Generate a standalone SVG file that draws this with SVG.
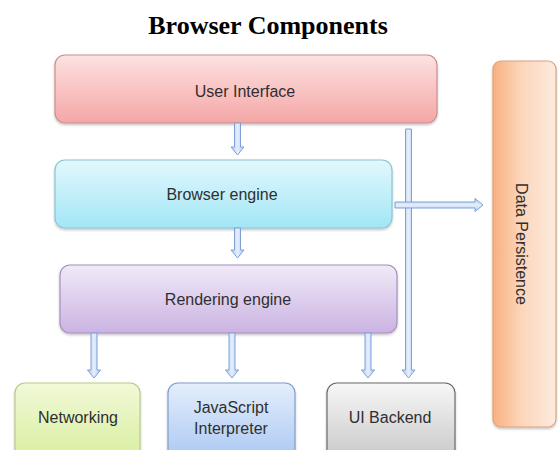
<svg xmlns="http://www.w3.org/2000/svg" width="558" height="450" viewBox="0 0 558 450">
  <style>
    .lbl { font-family: "Liberation Sans", Arial, sans-serif; font-size: 16px; fill: #2f2f2f; text-anchor: middle; }
    .title { font-family: "Liberation Serif", "Times New Roman", serif; font-size: 26px; font-weight: bold; fill: #000000; text-anchor: middle; }
    .box { stroke-width: 1.2; filter: url(#shadow); }
    .arrow { fill: url(#arrowFillV); stroke: #7d9fd6; stroke-width: 1; stroke-linejoin: miter; }
    .arrowH { fill: url(#arrowFillH); stroke: #7d9fd6; stroke-width: 1; }
  </style>
  <defs>
    <filter id="shadow" x="-10%" y="-10%" width="120%" height="130%">
      <feDropShadow dx="0" dy="1.5" stdDeviation="1.2" flood-color="#000000" flood-opacity="0.25"/>
    </filter>
    <linearGradient id="gUI" x1="0" y1="0" x2="0" y2="1">
      <stop offset="0" stop-color="#fde2e2"/>
      <stop offset="1" stop-color="#f5a6a6"/>
    </linearGradient>
    <linearGradient id="gBE" x1="0" y1="0" x2="0" y2="1">
      <stop offset="0" stop-color="#e2f8fd"/>
      <stop offset="1" stop-color="#a2e6f6"/>
    </linearGradient>
    <linearGradient id="gRE" x1="0" y1="0" x2="0" y2="1">
      <stop offset="0" stop-color="#f1eaf8"/>
      <stop offset="1" stop-color="#cbb3e2"/>
    </linearGradient>
    <linearGradient id="gNet" x1="0" y1="0" x2="0" y2="1">
      <stop offset="0" stop-color="#f1f9d8"/>
      <stop offset="1" stop-color="#d8ee9c"/>
    </linearGradient>
    <linearGradient id="gJS" x1="0" y1="0" x2="0" y2="1">
      <stop offset="0" stop-color="#e4eefc"/>
      <stop offset="1" stop-color="#a8c6f2"/>
    </linearGradient>
    <linearGradient id="gUIB" x1="0" y1="0" x2="0" y2="1">
      <stop offset="0" stop-color="#f7f7f7"/>
      <stop offset="1" stop-color="#c6c6c6"/>
    </linearGradient>
    <linearGradient id="gDP" x1="0" y1="0" x2="1" y2="0">
      <stop offset="0" stop-color="#f8b080"/>
      <stop offset="0.45" stop-color="#fcd6bb"/>
      <stop offset="1" stop-color="#fdebdf"/>
    </linearGradient>
    <linearGradient id="arrowFillV" x1="0" y1="0" x2="1" y2="0">
      <stop offset="0" stop-color="#b4ccf0"/>
      <stop offset="0.5" stop-color="#e4eefc"/>
      <stop offset="1" stop-color="#b4ccf0"/>
    </linearGradient>
    <linearGradient id="arrowFillH" x1="0" y1="0" x2="0" y2="1">
      <stop offset="0" stop-color="#b4ccf0"/>
      <stop offset="0.5" stop-color="#e4eefc"/>
      <stop offset="1" stop-color="#b4ccf0"/>
    </linearGradient>
  </defs>

  <text class="title" x="268" y="34">Browser Components</text>

  <g id="user-interface">
    <rect class="box" x="55" y="55" width="382" height="68" rx="10" fill="url(#gUI)" stroke="#c98f8f"/>
    <text class="lbl" x="245" y="97">User Interface</text>
  </g>

  <g id="browser-engine">
    <rect class="box" x="55" y="160" width="337" height="68" rx="10" fill="url(#gBE)" stroke="#8cc4d4"/>
    <text class="lbl" x="222" y="200">Browser engine</text>
  </g>

  <g id="rendering-engine">
    <rect class="box" x="60" y="265" width="337" height="68" rx="10" fill="url(#gRE)" stroke="#a68fbf"/>
    <text class="lbl" x="228" y="305">Rendering engine</text>
  </g>

  <g id="networking">
    <rect class="box" x="15" y="383" width="125" height="80" rx="10" fill="url(#gNet)" stroke="#b8cc8a"/>
    <text class="lbl" x="78" y="423">Networking</text>
  </g>

  <g id="javascript-interpreter">
    <rect class="box" x="168" y="383" width="127" height="80" rx="10" fill="url(#gJS)" stroke="#7e9ecc"/>
    <text class="lbl" x="231" y="413">JavaScript</text>
    <text class="lbl" x="231" y="434">Interpreter</text>
  </g>

  <g id="ui-backend">
    <rect class="box" x="327" y="383" width="128" height="80" rx="10" fill="url(#gUIB)" stroke="#6b6b6b"/>
    <text class="lbl" x="390" y="423">UI Backend</text>
  </g>

  <g id="data-persistence">
    <rect class="box" x="493" y="61" width="63" height="366" rx="8" fill="url(#gDP)" stroke="#dca27a"/>
    <text class="lbl" transform="translate(516,244) rotate(90)" x="0" y="0">Data Persistence</text>
  </g>

  <g id="connectors">
    <path class="arrow" d="M234.5,123 L240.5,123 L240.5,147 L244,147 L237.5,155 L231,147 L234.5,147 Z"/>
    <path class="arrow" d="M234.5,228 L240.5,228 L240.5,250 L244,250 L237.5,258 L231,250 L234.5,250 Z"/>
    <path class="arrow" d="M91,333 L97,333 L97,370 L100.5,370 L94,378 L87.5,370 L91,370 Z"/>
    <path class="arrow" d="M229,333 L235,333 L235,370 L238.5,370 L232,378 L225.5,370 L229,370 Z"/>
    <path class="arrow" d="M365,333 L371,333 L371,370 L374.5,370 L368,378 L361.5,370 L365,370 Z"/>
    <path class="arrow" d="M405.5,129 L411.5,129 L411.5,370 L415,370 L408.5,378 L402,370 L405.5,370 Z"/>
    <path class="arrowH" d="M395,202 L475,202 L475,198.5 L483,205 L475,211.5 L475,208 L395,208 Z"/>
  </g>
</svg>
